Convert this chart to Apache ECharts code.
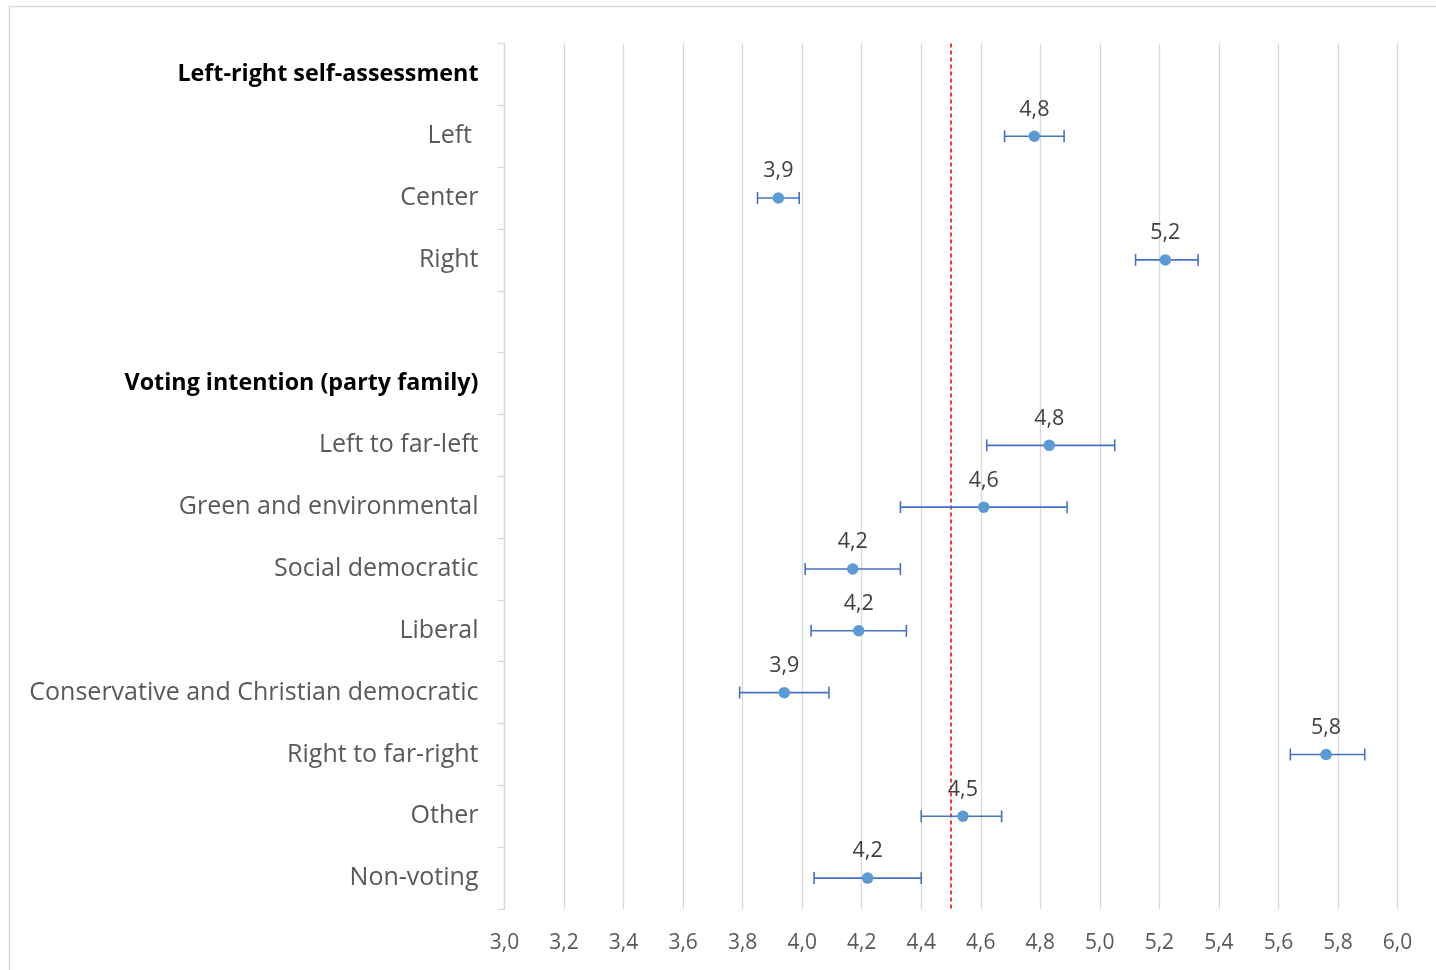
<!DOCTYPE html>
<html>
<head>
<meta charset="utf-8">
<script src="https://cdn.jsdelivr.net/npm/echarts@6/dist/echarts.min.js"></script>
<style>
  html, body { margin: 0; padding: 0; background: #ffffff; }
  #chart { width: 1436px; height: 970px; }
</style>
</head>
<body>
<div id="chart"></div>
<script>
// Row labels, top to bottom; group headers are drawn in bold, '' is a spacer row
const categories = [
  'Left-right self-assessment',
  'Left ',
  'Center',
  'Right',
  '',
  'Voting intention (party family)',
  'Left to far-left',
  'Green and environmental',
  'Social democratic',
  'Liberal',
  'Conservative and Christian democratic',
  'Right to far-right',
  'Other',
  'Non-voting'
];
const headers = ['Left-right self-assessment', 'Voting intention (party family)'];

// Mean score per row (null where the row has no estimate)
const means = [null, 4.78, 3.92, 5.22, null, null, 4.83, 4.61, 4.17, 4.19, 3.94, 5.76, 4.54, 4.22];
// Lower and upper bounds of the confidence interval
const lower = [null, 4.68, 3.85, 5.12, null, null, 4.62, 4.33, 4.01, 4.03, 3.79, 5.64, 4.40, 4.04];
const upper = [null, 4.88, 3.99, 5.33, null, null, 5.05, 4.89, 4.33, 4.35, 4.09, 5.89, 4.67, 4.40];

// Reference value marked by the dashed line
const referenceValue = 4.5;

// x-axis range and tick step
const xMin = 3.0, xMax = 6.0, xStep = 0.2;

const FONT = "'Open Sans', 'Noto Sans', sans-serif";
const fmt = v => v.toFixed(1).replace('.', ',');

const pointData = [];
const barData = [];
means.forEach((m, i) => {
  if (m === null) return;
  pointData.push([m, i]);
  barData.push([lower[i], upper[i], i]);
});

const chart = echarts.init(document.getElementById('chart'), null, { renderer: 'canvas' });

chart.setOption({
  backgroundColor: '#ffffff',
  animation: false,
  graphic: [{
    type: 'rect',
    shape: { x: 9.5, y: 6.5, width: 1500, height: 1000 },
    style: { fill: 'none', stroke: '#d9d9d9', lineWidth: 1.5 },
    silent: true
  }],
  grid: { left: 504.5, right: 38.5, top: 43.5, bottom: 61 },
  xAxis: {
    type: 'value',
    min: xMin,
    max: xMax,
    interval: xStep,
    axisLine: { show: false },
    axisTick: { show: false },
    splitLine: { show: true, lineStyle: { color: '#d9d9d9', width: 1.3 } },
    axisLabel: {
      margin: 24,
      color: '#595959',
      fontFamily: FONT,
      fontSize: 21,
      formatter: v => fmt(v)
    }
  },
  yAxis: {
    type: 'category',
    data: categories,
    inverse: true,
    axisLine: { show: true, lineStyle: { color: '#d9d9d9', width: 1.3 } },
    axisTick: { show: true, length: 7, lineStyle: { color: '#d9d9d9', width: 1.3 } },
    splitLine: { show: false },
    axisLabel: {
      margin: 26,
      interval: 0,
      color: '#595959',
      fontFamily: FONT,
      fontSize: 25,
      formatter: v => headers.includes(v) ? '{h|' + v + '}' : v,
      rich: {
        h: { fontFamily: FONT, fontSize: 23.3, fontWeight: 'bold', color: '#000000' }
      }
    }
  },
  series: [
    {
      // confidence intervals with end caps
      type: 'custom',
      z: 3,
      data: barData,
      renderItem: (params, api) => {
        const a = api.coord([api.value(0), api.value(2)]);
        const b = api.coord([api.value(1), api.value(2)]);
        const cap = 6;
        const style = { stroke: '#4472C4', lineWidth: 1.6, fill: 'none' };
        return {
          type: 'group',
          children: [
            { type: 'line', shape: { x1: a[0], y1: a[1], x2: b[0], y2: b[1] }, style },
            { type: 'line', shape: { x1: a[0], y1: a[1] - cap, x2: a[0], y2: a[1] + cap }, style },
            { type: 'line', shape: { x1: b[0], y1: b[1] - cap, x2: b[0], y2: b[1] + cap }, style }
          ]
        };
      },
      encode: { x: [0, 1], y: 2 }
    },
    {
      // mean estimates with value labels
      type: 'scatter',
      z: 4,
      data: pointData,
      symbol: 'circle',
      symbolSize: 11.5,
      itemStyle: { color: '#5B9BD5', opacity: 1 },
      label: {
        show: true,
        position: 'top',
        distance: 10,
        color: '#404040',
        fontFamily: FONT,
        fontSize: 21.5,
        formatter: p => fmt(p.value[0])
      },
      markLine: {
        silent: true,
        symbol: 'none',
        label: { show: false },
        lineStyle: { color: '#FF0000', type: [4, 3], width: 1.6 },
        data: [{ xAxis: referenceValue }],
        z: 2
      }
    }
  ]
});
</script>
</body>
</html>
